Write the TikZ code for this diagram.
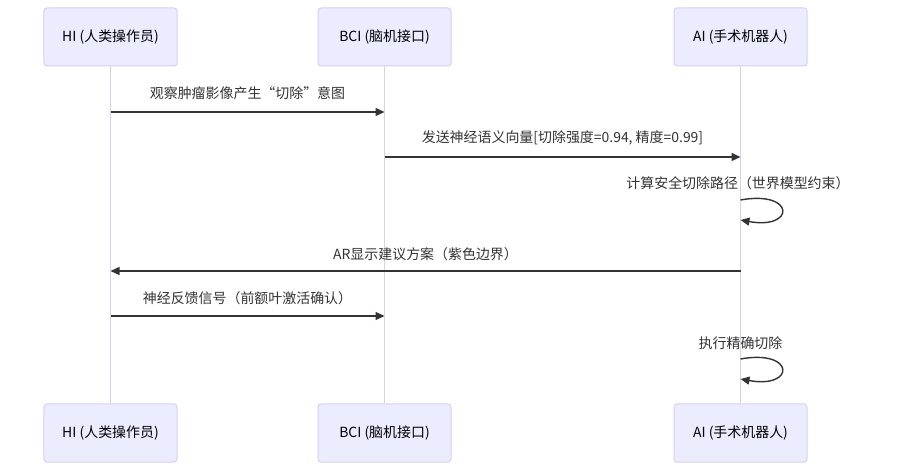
\documentclass[tikz,border=0pt]{standalone}
\usepackage{fontspec}
\setmainfont{Noto Sans CJK SC}
\usetikzlibrary{arrows.meta}
\definecolor{actfill}{HTML}{ECECFF}
\definecolor{actline}{HTML}{D9CFF3}
\definecolor{msgcol}{HTML}{333333}
\tikzset{
	actor/.style={draw=actline,fill=actfill,rounded corners=3bp,minimum width=133bp,minimum height=58bp,line width=1bp,font=\fontsize{14}{16}\selectfont,text=black},
	life/.style={draw=actline,line width=1.2bp},
	msgline/.style={draw=msgcol,line width=1.4bp,-{Triangle[length=9bp,width=8bp]}},
	msgtxt/.style={font=\fontsize{14}{16}\selectfont,text=msgcol,inner sep=0pt}
}

\begin{document}
\begin{tikzpicture}[x=1bp,y=-1bp]
	\useasboundingbox[fill=white] (0,0) rectangle (899,472);
\node[actor] (hi) at (110.5,37) {HI (人类操作员)};
\node[actor] (bci) at (384.5,37) {BCI (脑机接口)};
\node[actor] (ai) at (740.5,37) {AI (手术机器人)};
\node[actor] (hib) at (110.5,433) {HI (人类操作员)};
\node[actor] (bcib) at (384.5,433) {BCI (脑机接口)};
\node[actor] (aib) at (740.5,433) {AI (手术机器人)};
	\draw[life] (hi.south) -- (hib.north);
	\draw[life] (bci.south) -- (bcib.north);
	\draw[life] (ai.south) -- (aib.north);
\coordinate (m1a) at (110.5,112); \coordinate (m1b) at (384.5,112);
\coordinate (m2a) at (384.5,157); \coordinate (m2b) at (740.5,157);
\coordinate (s1a) at (740.5,200); \coordinate (s1b) at (740.5,220);
\coordinate (m4a) at (740.5,271); \coordinate (m4b) at (110.5,271);
\coordinate (m5a) at (110.5,316); \coordinate (m5b) at (384.5,316);
\coordinate (s2a) at (740.5,359); \coordinate (s2b) at (740.5,379);
	\node[msgtxt] (t1) at (247.5,93) {观察肿瘤影像产生“切除”意图};
	\node[msgtxt] (t2) at (562.5,138) {发送神经语义向量[切除强度=0.94, 精度=0.99]};
	\node[msgtxt] (t3) at (738,183) {计算安全切除路径（世界模型约束）};
	\node[msgtxt] (t4) at (425.5,254) {AR显示建议方案（紫色边界）};
	\node[msgtxt] (t5) at (247.5,298) {神经反馈信号（前额叶激活确认）};
	\node[msgtxt] (t6) at (740.5,343) {执行精确切除};
	\draw[msgline] (m1a) -- (m1b);
	\draw[msgline] (m2a) -- (m2b);
	\draw[msgline] (s1a) .. controls +(55,-10) and +(55,10) .. (s1b);
	\draw[msgline] (m4a) -- (m4b);
	\draw[msgline] (m5a) -- (m5b);
	\draw[msgline] (s2a) .. controls +(55,-10) and +(55,10) .. (s2b);
\end{tikzpicture}
\end{document}
